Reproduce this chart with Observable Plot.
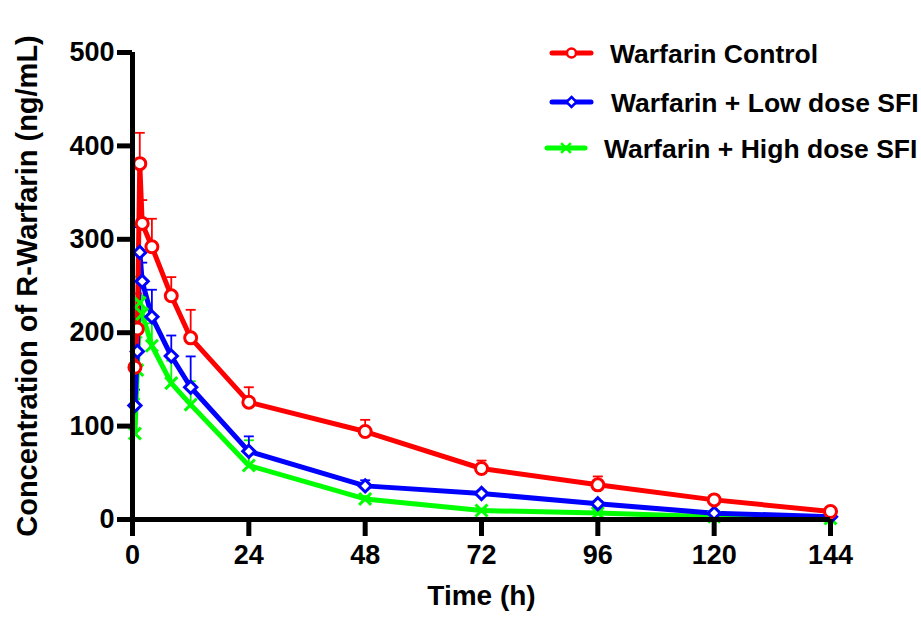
<!DOCTYPE html>
<html><head><meta charset="utf-8">
<script src="https://cdn.jsdelivr.net/npm/d3@7"></script>
<script src="https://cdn.jsdelivr.net/npm/@observablehq/plot@0.6"></script>
<style>
body{margin:0;background:#fff;}
#wrap{position:relative;width:921px;height:623px;overflow:hidden;}
#legend{position:absolute;left:0;top:0;pointer-events:none;}
</style></head><body><div id="wrap"></div>
<script>
// ---- data ----
const times = [0.5, 1, 1.5, 2, 4, 8, 12, 24, 48, 72, 96, 120, 144];
const seriesNames = ["Warfarin Control", "Warfarin + Low dose SFI", "Warfarin + High dose SFI"];
const controlMean = [163, 204, 381, 317, 292, 239.5, 194.5, 125.6, 94.2, 54.6, 37.1, 21, 8.6];
const controlSD   = [16, 38, 33, 25, 30, 20, 30, 16, 12.5, 8.5, 9, 3, 2];
const lowMean     = [122, 180, 286, 255, 217, 175, 141.6, 73, 36, 27.8, 16.8, 6.8, 3];
const lowSD       = [17, 35, 27, 20, 29, 22, 33, 16, 6, 3, 3, 2, 1];
const highMean    = [92, 160, 232, 220, 186, 146, 123, 57.8, 22, 9.6, 7, 3, 1];
const highSD      = [37, 35, 28, 20, 24, 24, 25, 27, 3, 2, 2, 1, 1];
const xTicks = [0, 24, 48, 72, 96, 120, 144];
const yTicks = [0, 100, 200, 300, 400, 500];
const xLabel = "Time (h)";
const yLabel = "Concentration of R-Warfarin (ng/mL)";

// ---- styling ----
const FONT = "'Liberation Sans', Arial, Helvetica, sans-serif";
const styles = [
  {color: "#ff0000", symbol: "circle", fill: "white", r: 6},
  {color: "#0000ff", symbol: "diamond2", fill: "white", r: 5.5},
  {color: "#00ff00", symbol: "times", fill: "none", r: 5.5}
];
const means = [controlMean, lowMean, highMean];
const sds = [controlSD, lowSD, highSD];

const series = seriesNames.map((name, k) => ({
  name, ...styles[k],
  rows: times.map((t, i) => ({t, v: means[k][i], sd: sds[k][i]}))
}));

const capSymbol = {
  draw(ctx, size) {
    const r = Math.sqrt(size / Math.PI);
    ctx.moveTo(-r, 0); ctx.lineTo(r, 0);
  }
};

const drawOrder = [2, 1, 0];
const marks = [];
for (const k of drawOrder) {
  const s = series[k];
  marks.push(Plot.ruleX(s.rows, {x: "t", y1: "v", y2: d => d.v + d.sd, stroke: s.color, strokeWidth: 1.8}));
  marks.push(Plot.dot(s.rows, {x: "t", y: d => d.v + d.sd, symbol: capSymbol, r: 5, stroke: s.color, strokeWidth: 1.8}));
}
for (const k of drawOrder) {
  const s = series[k];
  marks.push(Plot.line(s.rows, {x: "t", y: "v", stroke: s.color, strokeWidth: 5, strokeLinejoin: "round"}));
}
for (const k of drawOrder) {
  const s = series[k];
  marks.push(Plot.dot(s.rows, {x: "t", y: "v", symbol: s.symbol, r: s.r, stroke: s.color, fill: s.fill, strokeWidth: 3}));
}

const chart = Plot.plot({
  width: 921,
  height: 623,
  marginLeft: 132,
  marginRight: 91,
  marginTop: 52,
  marginBottom: 104,
  style: {fontFamily: FONT, fontWeight: "bold", fontSize: "27px", color: "black", background: "white"},
  x: {domain: [0, 144]},
  y: {domain: [0, 500]},
  marks: [
    ...marks,
    Plot.ruleX([0], {stroke: "black", strokeWidth: 5}),
    Plot.ruleY([0], {stroke: "black", strokeWidth: 5}),
    Plot.axisX({ticks: xTicks, tickSize: 17, tickPadding: 8, strokeWidth: 5, fontSize: 27, fontWeight: "bold", label: null, tickFormat: d => String(d)}),
    Plot.axisY({ticks: yTicks, tickSize: 15, tickPadding: 3, strokeWidth: 5, fontSize: 27, fontWeight: "bold", label: null, tickFormat: d => String(d)}),
    Plot.text([yLabel], {frameAnchor: "left", textAnchor: "middle", rotate: -90, dx: -105, fontSize: 29, fontWeight: "bold", fill: "black"}),
    Plot.text([xLabel], {frameAnchor: "bottom", textAnchor: "middle", dy: 85, fontSize: 28, fontWeight: "bold", fill: "black"})
  ]
});
const wrap = document.getElementById("wrap");
wrap.appendChild(chart);

// ---- legend (overlay) ----
const legendLayout = [
  {x1: 552, x2: 591, y: 53, tx: 610, ty: 63},
  {x1: 552, x2: 591, y: 102, tx: 611, ty: 112},
  {x1: 547, x2: 585, y: 148, tx: 604, ty: 158}
];
const lg = d3.select(wrap).append("svg").attr("id", "legend").attr("width", 921).attr("height", 623);
const symMap = {circle: d3.symbolCircle, diamond2: d3.symbolDiamond2, times: d3.symbolTimes};
series.forEach((s, k) => {
  const L = legendLayout[k];
  const g = lg.append("g");
  g.append("line").attr("x1", L.x1).attr("x2", L.x2).attr("y1", L.y).attr("y2", L.y)
    .attr("stroke", s.color).attr("stroke-width", 5).attr("stroke-linecap", "round");
  g.append("path").attr("d", d3.symbol(symMap[s.symbol], Math.PI * 4.5 * 4.5)())
    .attr("transform", `translate(${(L.x1 + L.x2) / 2},${L.y})`)
    .attr("fill", s.fill).attr("stroke", s.color).attr("stroke-width", 2.5);
  g.append("text").attr("x", L.tx).attr("y", L.ty).text(s.name)
    .attr("font-family", FONT).attr("font-weight", "bold").attr("font-size", 26.5).attr("fill", "black");
});
</script></body></html>
